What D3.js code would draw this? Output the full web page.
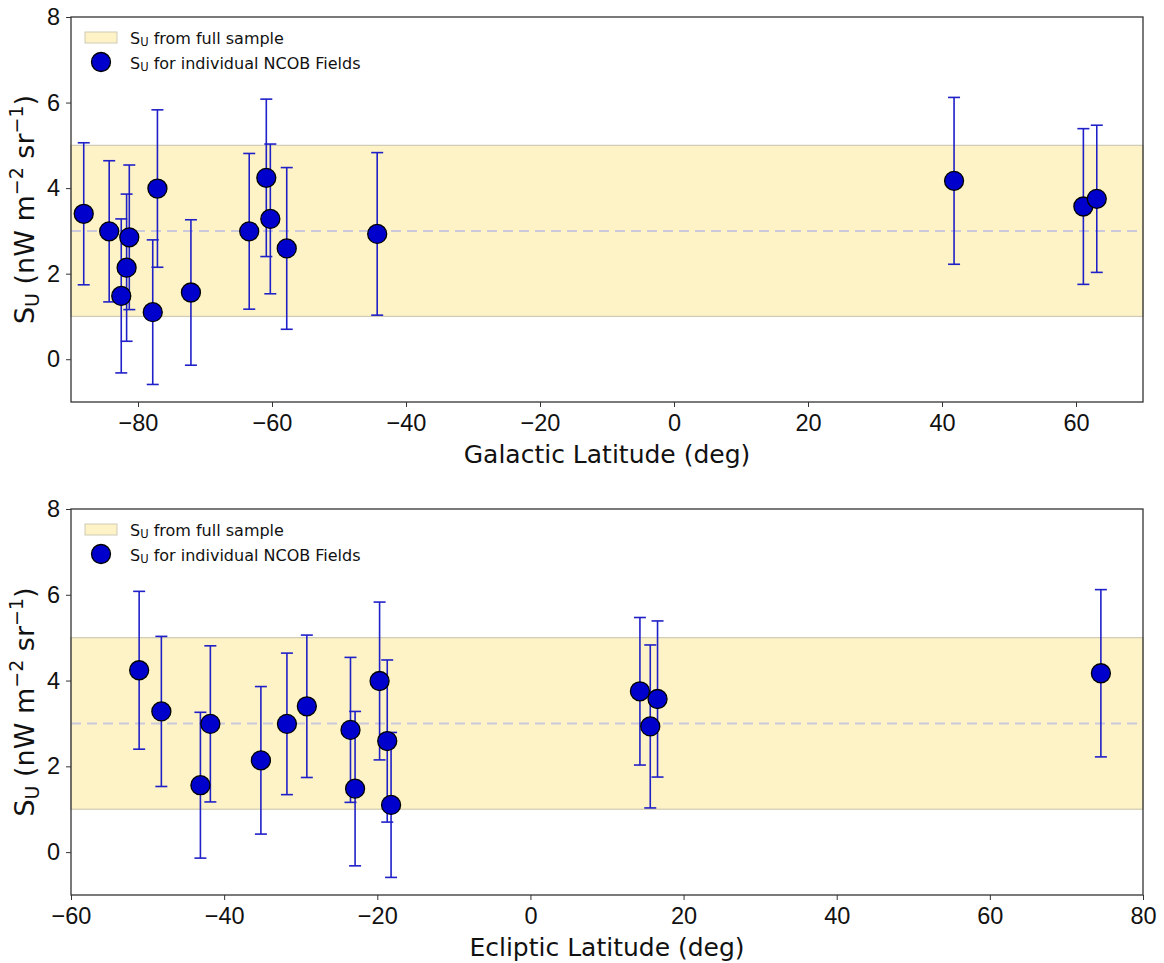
<!DOCTYPE html>
<html>
<head>
<meta charset="utf-8">
<style>
body { margin: 0; background: #fff; }
svg { font-family: "DejaVu Sans", sans-serif; }
.tick text { font-size: 23.5px; fill: #111; }
.tick line, .domain { stroke: #333; }
</style>
<script src="https://cdn.jsdelivr.net/npm/d3@7"></script>
</head>
<body>
<svg id="fig" width="1164" height="963"></svg>
<script>
// NCOB fields: galactic latitude, ecliptic latitude, S_U and its 1-sigma error
var galLat = [-88.1, -84.3, -81.3, -81.7, -82.5, -77.8, -77.1, -72.1, -63.4, -60.85, -60.25, -57.8, -44.3, 61.1, 63.1, 41.8];
var eclLat = [-29.2, -31.8, -23.5, -35.2, -22.9, -18.2, -19.7, -43.1, -41.8, -51.1, -48.2, -18.7, 15.65, 16.6, 14.3, 74.5];
var suVal  = [3.40, 2.99, 2.85, 2.14, 1.48, 1.10, 3.99, 1.56, 2.99, 4.24, 3.28, 2.59, 2.93, 3.57, 3.75, 4.17];
var suErr  = [1.66, 1.65, 1.69, 1.72, 1.80, 1.69, 1.84, 1.70, 1.82, 1.84, 1.75, 1.89, 1.90, 1.82, 1.72, 1.95];

// full-sample S_U: mean and band
var fullMean = 3.0;
var fullBand = [1.0, 5.0];

var yTicks = [0, 2, 4, 6, 8];
var galTicks = [-80, -60, -40, -20, 0, 20, 40, 60];
var eclTicks = [-60, -40, -20, 0, 20, 40, 60, 80];

var legendLabels = [" from full sample", " for individual NCOB Fields"];

var svg = d3.select("#fig");
var left = 71, right = 1143;

function panel(top, bottom, xs, xdomain, xticks, xlabel) {
  var g = svg.append("g");
  var x = d3.scaleLinear().domain(xdomain).range([left, right]);
  var y = d3.scaleLinear().domain([-1, 8]).range([bottom, top]);

  // band
  g.append("rect")
    .attr("x", left).attr("width", right - left)
    .attr("y", y(fullBand[1])).attr("height", y(fullBand[0]) - y(fullBand[1]))
    .attr("fill", "#fdf3c6").attr("stroke", "#cfcab4").attr("stroke-width", 1.2);

  g.append("line")
    .attr("x1", left).attr("x2", right)
    .attr("y1", y(fullMean)).attr("y2", y(fullMean))
    .attr("stroke", "#cbc8dc").attr("stroke-width", 2)
    .attr("stroke-dasharray", "10,6");

  var idx = d3.range(xs.length);
  var eb = g.append("g").attr("stroke", "#2020c8").attr("stroke-width", 1.6);
  idx.forEach(function(i) {
    var cx = x(xs[i]), y0 = y(suVal[i] - suErr[i]), y1 = y(suVal[i] + suErr[i]);
    eb.append("line").attr("x1", cx).attr("x2", cx).attr("y1", y0).attr("y2", y1);
    eb.append("line").attr("x1", cx - 6).attr("x2", cx + 6).attr("y1", y0).attr("y2", y0);
    eb.append("line").attr("x1", cx - 6).attr("x2", cx + 6).attr("y1", y1).attr("y2", y1);
  });

  g.selectAll("circle.pt").data(idx).join("circle")
    .attr("class", "pt")
    .attr("cx", function(i) { return x(xs[i]); })
    .attr("cy", function(i) { return y(suVal[i]); })
    .attr("r", 9.5)
    .attr("fill", "#0000cc").attr("stroke", "#000").attr("stroke-width", 1.3);

  // frame
  g.append("rect").attr("x", left).attr("y", top)
    .attr("width", right - left).attr("height", bottom - top)
    .attr("fill", "none").attr("stroke", "#333").attr("stroke-width", 1.3);

  var xa = g.append("g").attr("transform", "translate(0," + bottom + ")")
    .call(d3.axisBottom(x).tickValues(xticks).tickSize(5).tickPadding(7)
      .tickFormat(function(d) { return String(d).replace("-", "\u2212"); }));
  xa.select(".domain").remove();
  var ya = g.append("g").attr("transform", "translate(" + left + ",0)")
    .call(d3.axisLeft(y).tickValues(yTicks).tickSize(5).tickPadding(6));
  ya.select(".domain").remove();

  g.append("text").attr("x", (left + right) / 2).attr("y", bottom + 61)
    .attr("text-anchor", "middle").attr("font-size", 25).attr("fill", "#111")
    .text(xlabel);

  var yl = g.append("text")
    .attr("transform", "translate(34," + ((top + bottom) / 2) + ") rotate(-90)")
    .attr("text-anchor", "middle").attr("font-size", 27).attr("fill", "#111");
  yl.append("tspan").text("S");
  yl.append("tspan").attr("font-size", 19).attr("dy", 5).text("U");
  yl.append("tspan").attr("dy", -5).text(" (nW m");
  yl.append("tspan").attr("font-size", 19).attr("dy", -11).text("\u22122");
  yl.append("tspan").attr("dy", 11).text(" sr");
  yl.append("tspan").attr("font-size", 19).attr("dy", -11).text("\u22121");
  yl.append("tspan").attr("dy", 11).text(")");

  // legend
  var lg = g.append("g").attr("font-size", 16).attr("fill", "#111");
  lg.append("rect").attr("x", 85).attr("y", top + 15).attr("width", 32).attr("height", 11)
    .attr("fill", "#fdf3c6").attr("stroke", "#cfcab4");
  lg.append("circle").attr("cx", 101).attr("cy", top + 45).attr("r", 9.5)
    .attr("fill", "#0000cc").attr("stroke", "#000").attr("stroke-width", 1.3);
  [top + 27, top + 52].forEach(function(ty, k) {
    var t = lg.append("text").attr("x", 130).attr("y", ty);
    t.append("tspan").text("S");
    t.append("tspan").attr("font-size", 11.5).attr("dy", 2).text("U");
    t.append("tspan").attr("dy", -2).text(legendLabels[k]);
  });
}

panel(17, 402, galLat, [-90, 70], galTicks, "Galactic Latitude (deg)");
panel(509, 895, eclLat, [-60, 80], eclTicks, "Ecliptic Latitude (deg)");
</script>
</body>
</html>
